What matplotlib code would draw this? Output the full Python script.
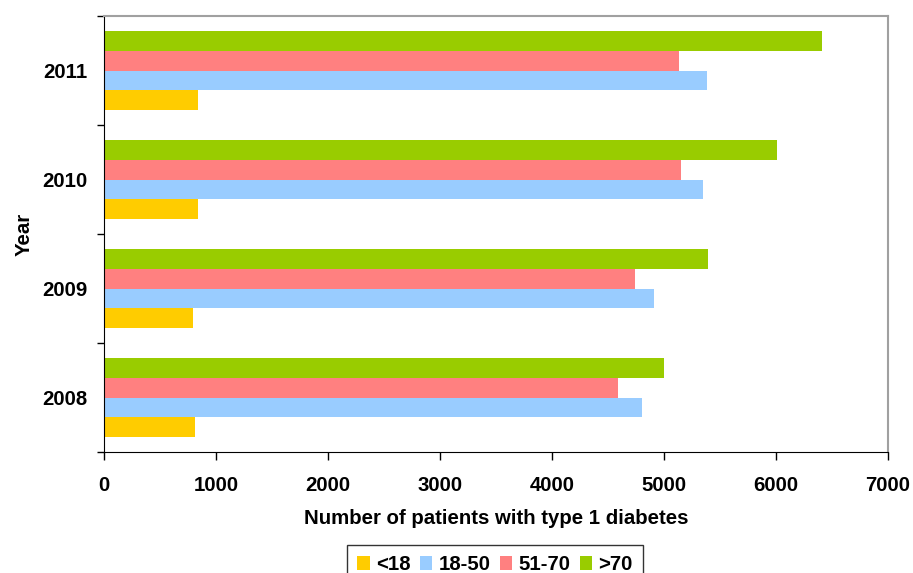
import numpy as np
import matplotlib
matplotlib.use('Agg')
import matplotlib.pyplot as plt

plt.rcParams['font.family'] = ['Liberation Sans', 'DejaVu Sans']
plt.rcParams['font.weight'] = 'bold'

# data
years = ['2008', '2009', '2010', '2011']
groups = ['<18', '18-50', '51-70', '>70']
under18 = [815, 795, 840, 840]
age18_50 = [4800, 4910, 5345, 5380]
age51_70 = [4585, 4745, 5150, 5135]
over70 = [5000, 5395, 6010, 6410]
colors = ['#FFCC00', '#99CCFF', '#FF8080', '#99CC00']

fig = plt.figure(figsize=(9.13, 5.73), dpi=100)
ax = fig.add_axes([104/913, 1-452/573, (888-104)/913, (452-16)/573])

y = np.arange(len(years))
h = 0.183
series = [under18, age18_50, age51_70, over70]
for i, (vals, lab, c) in enumerate(zip(series, groups, colors)):
    ax.barh(y + (i - 1.5) * h, vals, height=h, color=c, label=lab, linewidth=0)

fs = 14.7
ax.set_xlim(0, 7000)
ax.set_ylim(-0.5, 3.5)
ax.set_xticks(np.arange(0, 7001, 1000))
ax.set_yticks(y)
ax.set_yticklabels(years)
ax.set_yticks(np.arange(-0.5, 3.6, 1), minor=True)
ax.tick_params(axis='y', which='major', length=0, pad=12, labelsize=fs)
ax.tick_params(axis='y', which='minor', length=5, direction='out', width=1)
ax.tick_params(axis='x', length=6, direction='out', width=1, pad=11, labelsize=fs)

ax.spines['top'].set_color('#A0A0A0')
ax.spines['right'].set_color('#A0A0A0')
ax.spines['top'].set_linewidth(1.5)
ax.spines['right'].set_linewidth(1.5)

ax.set_xlabel('Number of patients with type 1 diabetes', fontsize=fs, fontweight='bold', labelpad=10)
ax.set_ylabel('Year', fontsize=fs, fontweight='bold', labelpad=6)

leg = fig.legend(loc='upper center', bbox_to_anchor=(495/913, 1-545/573), ncol=4,
                 fontsize=14.7, frameon=True, fancybox=False, edgecolor='black',
                 handlelength=0.62, handleheight=0.62, handletextpad=0.3,
                 columnspacing=0.45, borderpad=0.5, borderaxespad=0)
leg.get_frame().set_linewidth(1)

plt.savefig('out.png', dpi=100)
